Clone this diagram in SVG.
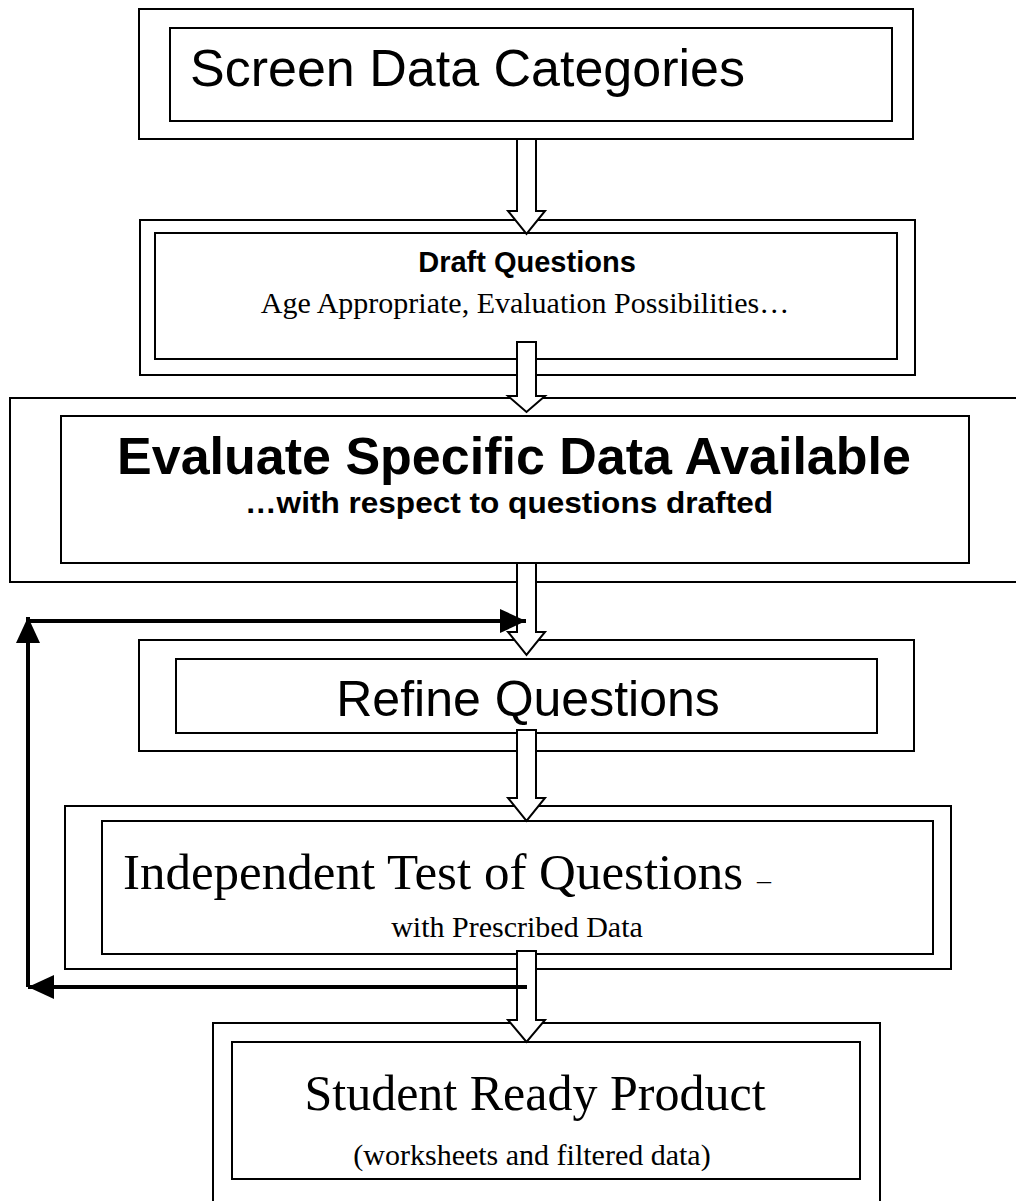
<svg xmlns="http://www.w3.org/2000/svg" width="1016" height="1201" viewBox="0 0 1016 1201">
<defs>
<style>
.box{fill:#fff;stroke:#000;stroke-width:2}
.blk{fill:#fff;stroke:#000;stroke-width:2;stroke-linejoin:miter}
.fb{fill:none;stroke:#000;stroke-width:4}
.sans{font-family:"Liberation Sans",Arial,sans-serif;fill:#000}
.serif{font-family:"Liberation Serif","Times New Roman",serif;fill:#000}
</style>
<marker id="ah" viewBox="0 0 26 24" refX="26" refY="12" markerWidth="26" markerHeight="24" markerUnits="userSpaceOnUse" orient="auto">
<path d="M0,0 L26,12 L0,24 Z" fill="#000"/>
</marker>
</defs>
<rect width="1016" height="1201" fill="#fff"/>

<g id="node-screen">
<rect class="box" x="139" y="9" width="774" height="130"/>
<rect class="box" x="170" y="28" width="722" height="93"/>
<text class="sans" x="190" y="86" font-size="52">Screen Data Categories</text>
</g>

<g id="node-draft">
<rect class="box" x="140" y="220" width="775" height="155"/>
<rect class="box" x="155" y="233" width="742" height="126"/>
<text class="sans" x="527" y="272" font-size="29" font-weight="bold" text-anchor="middle">Draft Questions</text>
<text class="serif" x="525" y="313" font-size="30" text-anchor="middle">Age Appropriate, Evaluation Possibilities…</text>
</g>

<g id="node-evaluate">
<rect class="box" x="10" y="398" width="1020" height="184"/>
<rect class="box" x="61" y="416" width="908" height="147"/>
<text class="sans" x="514" y="474" font-size="52" font-weight="bold" text-anchor="middle">Evaluate Specific Data Available</text>
<text class="sans" x="509" y="513" font-size="30" font-weight="bold" text-anchor="middle" textLength="528" lengthAdjust="spacingAndGlyphs">…with respect to questions drafted</text>
</g>

<g id="node-refine">
<rect class="box" x="139" y="640" width="775" height="111"/>
<rect class="box" x="176" y="659" width="701" height="74"/>
<text class="sans" x="528" y="716" font-size="50" text-anchor="middle">Refine Questions</text>
</g>

<g id="node-independent">
<rect class="box" x="65" y="806" width="886" height="163"/>
<rect class="box" x="102" y="821" width="831" height="133"/>
<text class="serif" x="123" y="889" font-size="51">Independent Test of Questions</text>
<text class="serif" x="757" y="889" font-size="28">–</text>
<text class="serif" x="517" y="937" font-size="30" text-anchor="middle">with Prescribed Data</text>
</g>

<g id="node-student">
<rect class="box" x="213" y="1023" width="667" height="200"/>
<rect class="box" x="232" y="1042" width="628" height="137"/>
<text class="serif" x="535" y="1110" font-size="50" text-anchor="middle">Student Ready Product</text>
<text class="serif" x="532" y="1165" font-size="30" text-anchor="middle">(worksheets and filtered data)</text>
</g>

<g id="connectors">
<polygon class="blk" points="517,139 536,139 536,211 545,211 526.5,234 508,211 517,211"/>
<polygon class="blk" points="517,342 536,342 536,396 545,396 526.5,412 508,396 517,396"/>
<polygon class="blk" points="517,563 536,563 536,632 545,632 526.5,655 508,632 517,632"/>
<polygon class="blk" points="517,730 536,730 536,798 545,798 526.5,821 508,798 517,798"/>
<polygon class="blk" points="517,951 536,951 536,1020 545,1020 526.5,1042 508,1020 517,1020"/>
<polyline class="fb" points="527,987 28,987" marker-end="url(#ah)"/>
<line class="fb" x1="28" y1="987" x2="28" y2="617" marker-end="url(#ah)"/>
<line class="fb" x1="26" y1="621" x2="526" y2="621" marker-end="url(#ah)"/>
</g>
</svg>
